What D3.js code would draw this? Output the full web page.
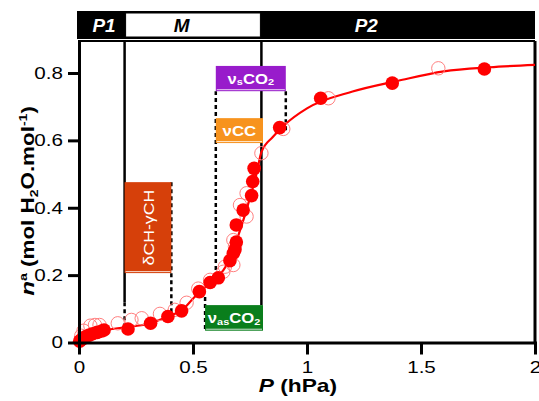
<!DOCTYPE html>
<html>
<head>
<meta charset="utf-8">
<script src="https://cdn.jsdelivr.net/npm/d3@7"></script>
<style>
body { margin:0; background:#fff; }
text { font-family: "Liberation Sans", Arial, sans-serif; }
</style>
</head>
<body>
<div id="chart"></div>
<script>
// adsorption (filled) and desorption (open) points, P in hPa, n in mol/mol
var adsP = [0.003,0.01,0.02,0.03,0.045,0.06,0.08,0.1,0.11,0.215,0.314,0.39,0.45,0.528,0.575,0.611,0.662,0.677,0.684,0.69,0.69,0.72,0.757,0.762,0.768,0.88,1.06,1.374,1.778];
var adsN = [0.004,0.008,0.013,0.018,0.022,0.026,0.03,0.034,0.037,0.04,0.057,0.077,0.094,0.151,0.178,0.192,0.243,0.265,0.275,0.298,0.349,0.393,0.436,0.478,0.517,0.638,0.725,0.77,0.812];
var desP = [0.01,0.02,0.05,0.07,0.09,0.17,0.23,0.275,0.355,0.42,0.472,0.523,0.575,0.633,0.64,0.677,0.684,0.677,0.706,0.735,0.735,0.8,0.896,1.094,1.576];
var desN = [0.02,0.035,0.05,0.052,0.052,0.057,0.067,0.072,0.085,0.097,0.118,0.16,0.186,0.21,0.225,0.23,0.285,0.304,0.408,0.374,0.443,0.562,0.634,0.725,0.814];
// fitted isotherm
var fitP = [0,0.05,0.1,0.2,0.3,0.4,0.45,0.5,0.55,0.6,0.65,0.7,0.75,0.78,0.8,0.85,0.9,1.0,1.2,1.4,1.6,1.8,2.0];
var fitN = [0.005,0.022,0.034,0.045,0.055,0.08,0.095,0.13,0.163,0.19,0.232,0.32,0.43,0.505,0.565,0.61,0.645,0.695,0.745,0.777,0.805,0.817,0.824];

var xTicks = [0,0.5,1,1.5,2];
var xTickLabels = ["0","0.5","1","1.5","2"];
var yTicks = [0,0.2,0.4,0.6,0.8];
var yTickLabels = ["0","0.2","0.4","0.6","0.8"];

var phases = ["P1","M","P2"];
var phaseLabelAt = [0.11,0.45,1.26];

var bandNames = ["δCH-γCH","νCC","νsCO2","νasCO2"];
var bandX0 = [0.2,0.6,0.6,0.553];
var bandX1 = [0.405,0.807,0.907,0.807];
var bandY0 = [0.206,0.592,0.746,0.035];
var bandY1 = [0.476,0.666,0.821,0.111];
var bandColors = ["#d6400a","#f7931e","#981ccb","#0a7e1c"];

// guide lines: x, from, to, dashed
var guideX = [0.2,0.2,0.8,0.405,0.6,0.907,0.553];
var guideFrom = [0.12,0.045,0.111,0.09,0.215,0.63,0.04];
var guideTo = [0.895,0.12,0.895,0.476,0.746,0.746,0.135];
var guideDash = [false,true,false,true,true,true,true];

var W = 539, H = 401;
var x0 = 79, x1 = 535, yBot = 342.5, yTop = 41;
var SX = 1.25; // horizontal stretch of the lettering

var svg = d3.select("#chart").append("svg").attr("width", W).attr("height", H);

var x = d3.scaleLinear().domain([0,2]).range([x0,x1]);
var y = d3.scaleLinear().domain([0,0.895]).range([yBot,yTop]);

// phase band on top
var band = svg.append("g");
band.append("rect").attr("x", x(0)-2).attr("y", 11).attr("width", x(2)-x(0)+2).attr("height", 28).attr("fill", "#000");
band.append("rect").attr("x", x(0.2)+1).attr("y", 13).attr("width", x(0.8)-x(0.2)-2).attr("height", 24)
    .attr("fill", "#fff").attr("stroke", "#000").attr("stroke-width", 1);
phases.forEach(function(p, i) {
  band.append("text")
    .attr("transform", "translate(" + x(phaseLabelAt[i]) + ",32) scale(1.05,1)")
    .attr("text-anchor", "middle")
    .attr("font-size", "18px").attr("font-weight", "bold").attr("font-style", "italic")
    .attr("fill", p == "M" ? "#000" : "#fff")
    .text(p);
});

// frame top and right
svg.append("line").attr("x1", x0).attr("x2", x1).attr("y1", yTop).attr("y2", yTop).attr("stroke", "#000").attr("stroke-width", 2);
svg.append("line").attr("x1", x1).attr("x2", x1).attr("y1", yTop).attr("y2", yBot).attr("stroke", "#000").attr("stroke-width", 3);

// guides
var gg = svg.append("g");
guideX.forEach(function(gx, i) {
  gg.append("line")
    .attr("x1", x(gx)).attr("x2", x(gx))
    .attr("y1", y(guideFrom[i])).attr("y2", y(guideTo[i]))
    .attr("stroke", "#000")
    .attr("stroke-width", 2.5)
    .attr("stroke-dasharray", guideDash[i] ? "4,3" : null);
});

// vibration band boxes
var bg = svg.append("g");
bandNames.forEach(function(name, i) {
  var bx = x(bandX0[i]), bw = x(bandX1[i]) - x(bandX0[i]);
  var by = y(bandY1[i]), bh = y(bandY0[i]) - y(bandY1[i]);
  bg.append("rect").attr("x", bx).attr("y", by).attr("width", bw).attr("height", bh).attr("fill", bandColors[i]);
  bg.append("line").attr("x1", bx+1).attr("x2", bx+bw-1).attr("y1", by+bh-1.5).attr("y2", by+bh-1.5)
    .attr("stroke", "#fff").attr("stroke-width", 1).attr("opacity", 0.8);
  var cx = bx + bw/2, cy = by + bh/2;
  var t = bg.append("text").attr("fill", "#fff").attr("text-anchor", "middle").attr("dominant-baseline", "central");
  if (i == 0) {
    t.attr("transform", "translate(" + (cx+1) + "," + cy + ") rotate(-90) scale(1.18,1)")
     .attr("font-size", "15px").text(name);
  } else if (i == 1) {
    t.attr("transform", "translate(" + cx + "," + cy + ") scale(1.2,1)")
     .attr("font-size", "14px").attr("font-weight", "bold").text(name);
  } else {
    var sub = i == 2 ? "s" : "as";
    t.attr("transform", "translate(" + cx + "," + cy + ") scale(1.15,1)")
     .attr("font-size", "14.5px").attr("font-weight", "bold");
    t.append("tspan").text("ν");
    t.append("tspan").attr("font-size", "9.5px").attr("dy", 3).text(sub);
    t.append("tspan").attr("dy", -3).text("CO");
    t.append("tspan").attr("font-size", "9.5px").attr("dy", 3).text("2");
  }
});

// fitted line
var pts = fitP.map(function(p, i) { return [p, fitN[i]]; });
svg.append("path").datum(pts)
  .attr("d", d3.line().x(function(d){ return x(d[0]); }).y(function(d){ return y(d[1]); }).curve(d3.curveMonotoneX))
  .attr("fill", "none").attr("stroke", "#ff0000").attr("stroke-width", 2.2);

// desorption open circles
svg.append("g").selectAll("circle").data(desP).enter().append("circle")
  .attr("cx", function(d){ return x(d); })
  .attr("cy", function(d, i){ return y(desN[i]); })
  .attr("r", 6.7).attr("fill", "none").attr("stroke", "#ff8080").attr("stroke-width", 1);

// adsorption filled circles
svg.append("g").selectAll("circle").data(adsP).enter().append("circle")
  .attr("cx", function(d){ return x(d); })
  .attr("cy", function(d, i){ return y(adsN[i]); })
  .attr("r", 6.8).attr("fill", "#ff0000");

// axes
var xAxis = svg.append("g").attr("transform", "translate(0," + yBot + ")")
  .call(d3.axisBottom(x).tickValues(xTicks).tickSize(12).tickSizeOuter(0).tickPadding(7)
        .tickFormat(function(d, i){ return xTickLabels[i]; }));
var yAxis = svg.append("g").attr("transform", "translate(" + x0 + ",0)")
  .call(d3.axisLeft(y).tickValues(yTicks).tickSize(11).tickSizeOuter(0).tickPadding(5)
        .tickFormat(function(d, i){ return yTickLabels[i]; }));
[xAxis, yAxis].forEach(function(a) {
  a.select(".domain").attr("stroke-width", 3).attr("stroke-linecap", "square");
  a.selectAll(".tick line").attr("stroke-width", 3);
  a.selectAll(".tick text").attr("font-size", "16.5px").attr("fill", "#000")
    .attr("font-family", "Liberation Sans, Arial, sans-serif");
});
xAxis.selectAll(".tick text").attr("transform", "scale(" + SX + ",1)");
yAxis.selectAll(".tick text").attr("x", -16 / SX).attr("transform", "scale(" + SX + ",1)");

// axis titles
var xt = svg.append("text").attr("transform", "translate(" + x(0.96) + ",392) scale(1.3,1)")
  .attr("text-anchor", "middle").attr("font-size", "17.5px").attr("font-weight", "bold");
xt.append("tspan").attr("font-style", "italic").text("P");
xt.append("tspan").text(" (hPa)");

var yt = svg.append("text").attr("transform", "translate(34,201) rotate(-90) scale(1.28,1)")
  .attr("text-anchor", "middle").attr("font-size", "17.5px").attr("font-weight", "bold");
yt.append("tspan").attr("font-style", "italic").attr("font-size", "19px").text("n");
yt.append("tspan").attr("font-size", "11px").attr("dy", -7).text("a");
yt.append("tspan").attr("dy", 7).text(" (mol H");
yt.append("tspan").attr("font-size", "11px").attr("dy", 4).text("2");
yt.append("tspan").attr("dy", -4).text("O.mol");
yt.append("tspan").attr("font-size", "11px").attr("dy", -7).text("-1");
yt.append("tspan").attr("dy", 7).text(")");
</script>
</body>
</html>
